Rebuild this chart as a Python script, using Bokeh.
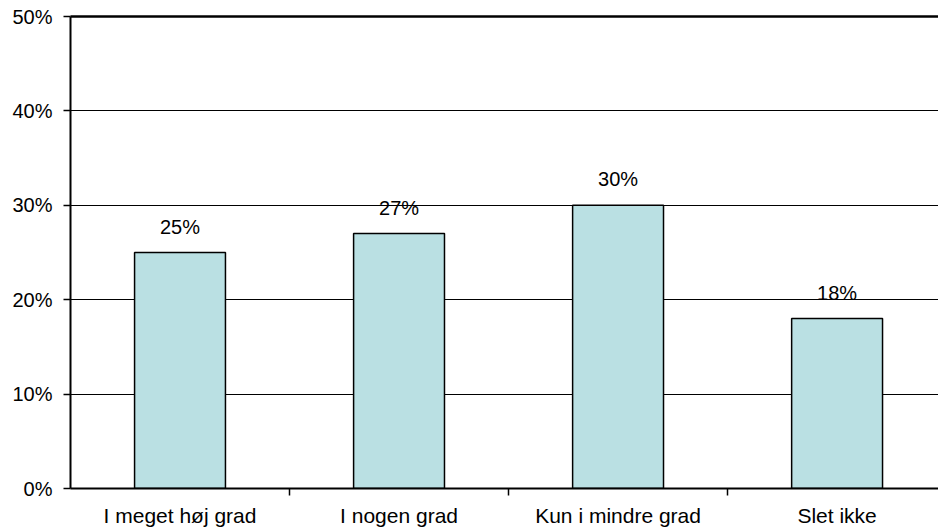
from bokeh.plotting import figure
from bokeh.models import ColumnDataSource, Range1d, FixedTicker, LabelSet, PrintfTickFormatter, LinearAxis
from bokeh.core.properties import value
from bokeh.embed import file_html
from bokeh.resources import INLINE

categories = ["I meget høj grad", "I nogen grad", "Kun i mindre grad", "Slet ikke"]
values = [25, 27, 30, 18]
value_labels = ["25%", "27%", "30%", "18%"]
y_ticks = [0, 10, 20, 30, 40, 50]

positions = [i + 0.5 for i in range(len(categories))]
boundaries = [i for i in range(1, len(categories))]

source = ColumnDataSource(dict(x=positions, top=values, label=value_labels))

p = figure(width=938, height=529, output_backend="svg", toolbar_location=None,
           x_range=Range1d(0, 3.963), y_range=Range1d(0, 50),
           min_border_left=70, min_border_right=0, min_border_top=16, min_border_bottom=41)

p.vbar(x="x", top="top", width=0.415, source=source,
       fill_color="#BAE0E3", line_color="black", line_width=1.5)

labels = LabelSet(x="x", y="top", text="label", source=source, text_align="center",
                  text_baseline="middle", y_offset=26, text_font_size="20px",
                  text_font=value("Liberation Sans"), text_color="black")
p.add_layout(labels)

# x axis
p.xaxis.ticker = FixedTicker(ticks=positions, minor_ticks=boundaries)
p.xaxis.major_label_overrides = {pos: c for pos, c in zip(positions, categories)}
p.xaxis.major_tick_line_color = None
p.xaxis.major_tick_out = 0
p.xaxis.major_tick_in = 0
p.xaxis.minor_tick_line_color = "black"
p.xaxis.minor_tick_line_width = 1.5
p.xaxis.minor_tick_out = 7
p.xaxis.minor_tick_in = 0
p.xaxis.major_label_standoff = 8
p.xaxis.major_label_text_font = "Liberation Sans"
p.xaxis.major_label_text_font_size = "21px"
p.xaxis.major_label_text_color = "black"
p.xaxis.axis_line_color = "black"
p.xaxis.axis_line_width = 2

# top border line
top_axis = LinearAxis(ticker=FixedTicker(ticks=[]), major_label_text_font_size="0px",
                      major_tick_line_color=None, minor_tick_line_color=None,
                      axis_line_color="black", axis_line_width=2.5, major_label_standoff=0)
p.add_layout(top_axis, "above")

# y axis
p.yaxis.ticker = FixedTicker(ticks=y_ticks, minor_ticks=[])
p.yaxis.formatter = PrintfTickFormatter(format="%d%%")
p.yaxis.major_tick_line_color = "black"
p.yaxis.major_tick_line_width = 1.5
p.yaxis.major_tick_out = 7
p.yaxis.major_tick_in = 0
p.yaxis.major_label_standoff = 11
p.yaxis.major_label_text_font = "Liberation Sans"
p.yaxis.major_label_text_font_size = "20px"
p.yaxis.major_label_text_color = "black"
p.yaxis.axis_line_color = "black"
p.yaxis.axis_line_width = 2

p.xgrid.grid_line_color = None
p.ygrid.grid_line_color = "black"
p.ygrid.grid_line_width = 1.2
p.ygrid.grid_line_alpha = 1

p.outline_line_color = None
p.background_fill_color = "white"
p.border_fill_color = "white"

open("out.html", "w").write(file_html(p, INLINE))
